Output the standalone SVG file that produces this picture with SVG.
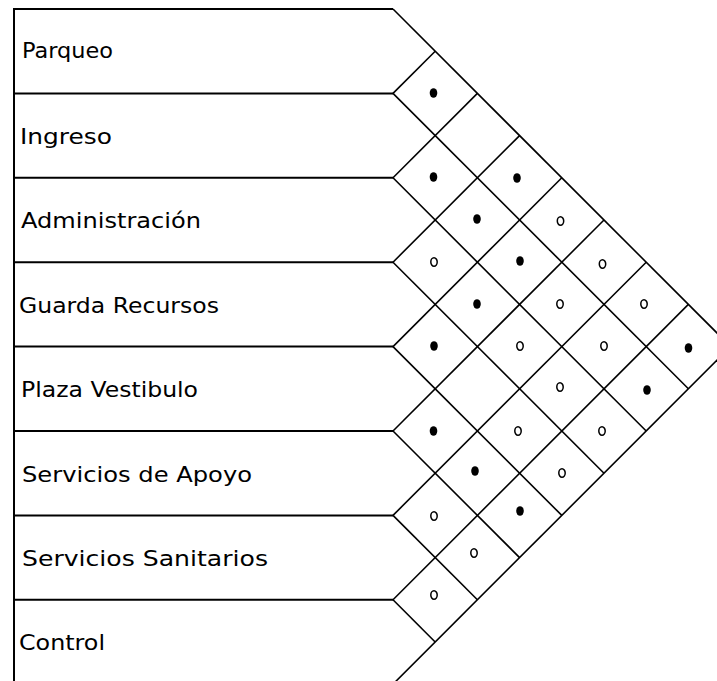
<svg xmlns="http://www.w3.org/2000/svg" width="717" height="681" viewBox="0 0 717 681">
<style>
.frame{stroke:#000;stroke-width:2;fill:none}
.grid{stroke:#000;stroke-width:1.6;fill:none}
.lbl{font-family:"DejaVu Sans","Liberation Sans",sans-serif;font-size:21px;fill:#000}
.full{fill:#000}
.half{fill:none;stroke:#000;stroke-width:1.5}
</style>
<defs>
<ellipse id="dot" class="full" cx="0" cy="0" rx="3.8" ry="4.8"/>
<ellipse id="ring" class="half" cx="0" cy="0" rx="3.2" ry="4.2"/>
</defs>
<rect width="717" height="681" fill="#fff"/>
<g id="rows">
<line class="frame" x1="14" y1="8" x2="14" y2="681"/>
<g id="row-parqueo"><line class="frame" x1="14" y1="9" x2="393" y2="9"/><text class="lbl" x="22" y="58" textLength="91" lengthAdjust="spacingAndGlyphs">Parqueo</text></g>
<g id="row-ingreso"><line class="frame" x1="14" y1="93.4" x2="393" y2="93.4"/><text class="lbl" x="20" y="144" textLength="92" lengthAdjust="spacingAndGlyphs">Ingreso</text></g>
<g id="row-administracion"><line class="frame" x1="14" y1="177.8" x2="393" y2="177.8"/><text class="lbl" x="21" y="228" textLength="180" lengthAdjust="spacingAndGlyphs">Administración</text></g>
<g id="row-guarda"><line class="frame" x1="14" y1="262.2" x2="393" y2="262.2"/><text class="lbl" x="19" y="313" textLength="200" lengthAdjust="spacingAndGlyphs">Guarda Recursos</text></g>
<g id="row-plaza"><line class="frame" x1="14" y1="346.6" x2="393" y2="346.6"/><text class="lbl" x="21" y="397" textLength="177" lengthAdjust="spacingAndGlyphs">Plaza Vestibulo</text></g>
<g id="row-apoyo"><line class="frame" x1="14" y1="431" x2="393" y2="431"/><text class="lbl" x="22" y="482" textLength="230" lengthAdjust="spacingAndGlyphs">Servicios de Apoyo</text></g>
<g id="row-sanitarios"><line class="frame" x1="14" y1="515.4" x2="393" y2="515.4"/><text class="lbl" x="22" y="566" textLength="246" lengthAdjust="spacingAndGlyphs">Servicios Sanitarios</text></g>
<g id="row-control"><line class="frame" x1="14" y1="599.8" x2="393" y2="599.8"/><text class="lbl" x="19" y="650" textLength="86" lengthAdjust="spacingAndGlyphs">Control</text></g>
</g>
<g id="connectors">
<line class="grid" x1="393" y1="9" x2="730.6" y2="346.6"/>
<line class="grid" x1="393" y1="93.4" x2="688.4" y2="388.8"/>
<line class="grid" x1="393" y1="177.8" x2="646.2" y2="431"/>
<line class="grid" x1="393" y1="262.2" x2="604" y2="473.2"/>
<line class="grid" x1="393" y1="346.6" x2="561.8" y2="515.4"/>
<line class="grid" x1="393" y1="431" x2="519.6" y2="557.6"/>
<line class="grid" x1="393" y1="515.4" x2="477.4" y2="599.8"/>
<line class="grid" x1="393" y1="599.8" x2="435.2" y2="642"/>
<line class="grid" x1="393" y1="93.4" x2="435.2" y2="51.2"/>
<line class="grid" x1="393" y1="177.8" x2="477.4" y2="93.4"/>
<line class="grid" x1="393" y1="262.2" x2="519.6" y2="135.6"/>
<line class="grid" x1="393" y1="346.6" x2="561.8" y2="177.8"/>
<line class="grid" x1="393" y1="431" x2="604" y2="220"/>
<line class="grid" x1="393" y1="515.4" x2="646.2" y2="262.2"/>
<line class="grid" x1="393" y1="599.8" x2="688.4" y2="304.4"/>
<line class="grid" x1="393" y1="684.2" x2="730.6" y2="346.6"/>
</g>
<g id="marks">
<use href="#dot" x="433.5" y="93"/>
<use href="#dot" x="517" y="178"/>
<use href="#dot" x="688.5" y="348"/>
<use href="#dot" x="433.5" y="177"/>
<use href="#dot" x="477" y="219"/>
<use href="#dot" x="520" y="261"/>
<use href="#dot" x="647" y="390"/>
<use href="#dot" x="477" y="304"/>
<use href="#dot" x="434" y="346"/>
<use href="#dot" x="433.5" y="431"/>
<use href="#dot" x="475" y="471"/>
<use href="#dot" x="520" y="511"/>
<use href="#ring" x="560.5" y="221"/>
<use href="#ring" x="602.5" y="264"/>
<use href="#ring" x="644" y="304"/>
<use href="#ring" x="560" y="304"/>
<use href="#ring" x="604" y="346"/>
<use href="#ring" x="434" y="262"/>
<use href="#ring" x="520" y="346"/>
<use href="#ring" x="560" y="387"/>
<use href="#ring" x="602" y="431"/>
<use href="#ring" x="518" y="431"/>
<use href="#ring" x="562" y="473"/>
<use href="#ring" x="434" y="516"/>
<use href="#ring" x="474" y="553"/>
<use href="#ring" x="434" y="595"/>
</g>
</svg>
